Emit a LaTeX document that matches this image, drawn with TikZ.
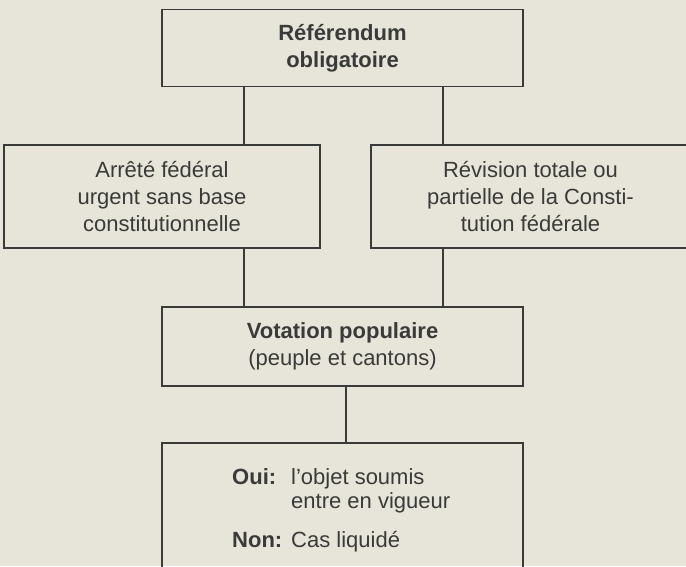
\documentclass[tikz,border=0pt]{standalone}
\usepackage{fontspec}
\setmainfont{Liberation Sans}
\usetikzlibrary{calc}
\definecolor{paper}{HTML}{E7E5D9}
\definecolor{ink}{HTML}{3A3A38}
\begin{document}
\begin{tikzpicture}[x=1pt,y=-1pt,
  txt/.style={font=\fontsize{22}{27}\selectfont, text=ink},
  boldtxt/.style={font=\fontsize{22}{27}\selectfont\bfseries, text=ink},
  box/.style={draw=ink, line width=1.6pt, inner sep=0pt, align=center, txt},
  link/.style={draw=ink, line width=1.5pt},
  lbl/.style={inner sep=0pt, anchor=base west}]
\fill[paper] (0,0) rectangle (686,566);
\useasboundingbox (0,0) rectangle (686,566);
\clip (0,0) rectangle (686,566);
% boxes
\node[box, boldtxt, minimum width=361pt, minimum height=77pt] (ref) at (342.5,48) {Référendum\\obligatoire};
\node[box, minimum width=316pt, minimum height=103pt] (arr) at (162,196.5) {Arrêté fédéral\\urgent sans base\\constitutionnelle};
\node[box, minimum width=319pt, minimum height=103pt] (rev) at (530.5,196.5) {Révision totale ou\\partielle de la Consti-\\tution fédérale};
\node[box, minimum width=361pt, minimum height=79pt] (vot) at (342.5,346.5) {\textbf{Votation populaire}\\(peuple et cantons)};
\node[box, minimum width=361pt, minimum height=137pt] (res) at (342.5,511.5) {};
% texts in result box
\node[lbl, boldtxt] (oui) at (232,484) {Oui:};
\node[lbl, txt] (ouitxt) at (291,484) {l’objet soumis};
\node[lbl, txt] (entre) at (291,508) {entre en vigueur};
\node[lbl, boldtxt] (non) at (232,547) {Non:};
\node[lbl, txt] (nontxt) at (291,547) {Cas liquidé};
% connectors
\coordinate (cl) at (244,0);
\coordinate (cr) at (443,0);
\coordinate (cm) at (346,0);
\draw[link] (ref.south -| cl) -- (arr.north -| cl);
\draw[link] (ref.south -| cr) -- (rev.north -| cr);
\draw[link] (arr.south -| cl) -- (vot.north -| cl);
\draw[link] (rev.south -| cr) -- (vot.north -| cr);
\draw[link] (vot.south -| cm) -- (res.north -| cm);
\end{tikzpicture}
\end{document}
